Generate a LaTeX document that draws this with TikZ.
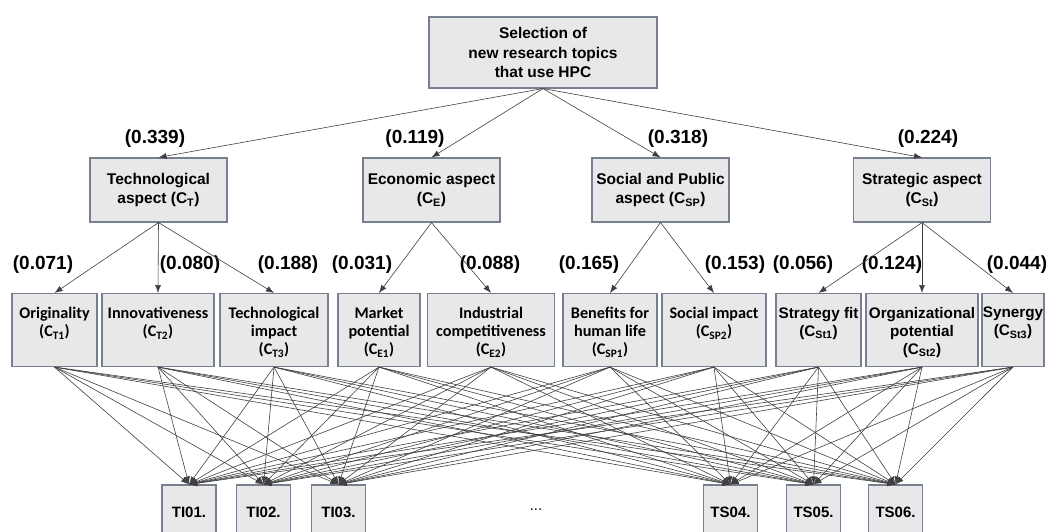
\documentclass[tikz,border=0pt]{standalone}
\usepackage{fontspec}
\setmainfont{Liberation Sans}
\newfontfamily\calibri{Carlito}
\usetikzlibrary{arrows.meta}
\definecolor{boxfill}{RGB}{232,232,232}
\definecolor{boxline}{RGB}{118,128,143}
\begin{document}
\begin{tikzpicture}[x=1pt,y=-1pt,
  critbox/.style={draw=boxline,fill=boxfill,line width=1.1pt,inner sep=0pt},
  goalbox/.style={critbox,minimum width=228,minimum height=71,align=center,font=\bfseries\fontsize{15.5}{19.5}\selectfont},
  aspbox/.style={critbox,minimum width=137,minimum height=64,align=center,font=\bfseries\fontsize{15.5}{19}\selectfont},
  subbox/.style={critbox,minimum height=73,anchor=north},
  subtext/.style={align=center,anchor=north,inner sep=0pt,font=\calibri\bfseries\fontsize{16.2}{18}\selectfont},
  subtextb/.style={subtext,font=\bfseries\fontsize{15.3}{18}\selectfont},
  altbox/.style={critbox,minimum width=54,minimum height=54,font=\bfseries\fontsize{15}{18}\selectfont},
  weight/.style={inner sep=0pt,font=\bfseries\fontsize{19}{22}\selectfont},
  link/.style={draw=black!75,line width=0.6pt,-{Latex[length=8pt,width=6pt]}}]
\useasboundingbox (0,0) rectangle (1060,532);
\clip (0,0) rectangle (1060,532);
% goal
\node[goalbox] (goal) at (543,52.5) {Selection of\\new research topics\\that use HPC};
% aspects
\node[aspbox] (CT) at (158.5,190) {Technological\\aspect (C\textsubscript{T})};
\node[aspbox] (CE) at (431.5,190) {Economic aspect\\(C\textsubscript{E})};
\node[aspbox] (CSP) at (660.5,190) {Social and Public\\aspect (C\textsubscript{SP})};
\node[aspbox] (CSt) at (922,190) {Strategic aspect\\(C\textsubscript{St})};
\node[weight] (wCT) at (155,139) {(0.339)};
\node[weight] (wCE) at (415,139) {(0.119)};
\node[weight] (wCSP) at (678,139) {(0.318)};
\node[weight] (wCSt) at (928,139) {(0.224)};
% sub-criteria
\node[subbox,minimum width=85] (CT1) at (54.5,293) {};
\node[subbox,minimum width=112] (CT2) at (158,293) {};
\node[subbox,minimum width=108] (CT3) at (274,293) {};
\node[subbox,minimum width=82] (CE1) at (379,293) {};
\node[subbox,minimum width=127] (CE2) at (491,293) {};
\node[subbox,minimum width=94] (CSP1) at (610,293) {};
\node[subbox,minimum width=104] (CSP2) at (714,293) {};
\node[subbox,minimum width=85] (CSt1) at (818.5,293) {};
\node[subbox,minimum width=112] (CSt2) at (922,293) {};
\node[subbox,minimum width=62] (CSt3) at (1013,293) {};
\node[subtext] (tCT1) at ([yshift=-14pt]CT1.north) {Originality\\(C\textsubscript{T1})};
\node[subtext] (tCT2) at ([yshift=-14pt]CT2.north) {Innovativeness\\(C\textsubscript{T2})};
\node[subtext] (tCT3) at ([yshift=-14pt]CT3.north) {Technological\\impact\\(C\textsubscript{T3})};
\node[subtext] (tCE1) at ([yshift=-14pt]CE1.north) {Market\\potential\\(C\textsubscript{E1})};
\node[subtext] (tCE2) at ([yshift=-14pt]CE2.north) {Industrial\\competitiveness\\(C\textsubscript{E2})};
\node[subtext] (tCSP1) at ([yshift=-14pt]CSP1.north) {Benefits for\\human life\\(C\textsubscript{SP1})};
\node[subtext] (tCSP2) at ([yshift=-14pt]CSP2.north) {Social impact\\(C\textsubscript{SP2})};
\node[subtextb] (tCSt1) at ([yshift=-14pt]CSt1.north) {Strategy fit\\(C\textsubscript{St1})};
\node[subtextb] (tCSt2) at ([yshift=-14pt]CSt2.north) {Organizational\\potential\\(C\textsubscript{St2})};
\node[subtextb] (tCSt3) at ([yshift=-14pt]CSt3.north) {Synergy\\(C\textsubscript{St3})};
\node[weight] (wCT1) at (43,265) {(0.071)};
\node[weight] (wCT2) at (190,265) {(0.080)};
\node[weight] (wCT3) at (288,265) {(0.188)};
\node[weight] (wCE1) at (362,265) {(0.031)};
\node[weight] (wCE2) at (490,265) {(0.088)};
\node[weight] (wCSP1) at (589,265) {(0.165)};
\node[weight] (wCSP2) at (735,265) {(0.153)};
\node[weight] (wCSt1) at (803,265) {(0.056)};
\node[weight] (wCSt2) at (892,265) {(0.124)};
\node[weight] (wCSt3) at (1017,265) {(0.044)};
% alternatives
\node[altbox] (TI01) at (189,512) {TI01.};
\node[altbox] (TI02) at (263.5,512) {TI02.};
\node[altbox] (TI03) at (338.5,512) {TI03.};
\node[font=\fontsize{15}{18}\selectfont] (dots) at (536,510) {...};
\node[altbox] (TS04) at (730.5,512) {TS04.};
\node[altbox] (TS05) at (813.5,512) {TS05.};
\node[altbox] (TS06) at (895.5,512) {TS06.};
% links
\draw[link] (goal.south) -- (CT.north);
\draw[link] (goal.south) -- (CE.north);
\draw[link] (goal.south) -- (CSP.north);
\draw[link] (goal.south) -- (CSt.north);
\draw[link] (CT.south) -- (CT1.north);
\draw[link] (CT.south) -- (CT2.north);
\draw[link] (CT.south) -- (CT3.north);
\draw[link] (CE.south) -- (CE1.north);
\draw[link] (CE.south) -- (CE2.north);
\draw[link] (CSP.south) -- (CSP1.north);
\draw[link] (CSP.south) -- (CSP2.north);
\draw[link] (CSt.south) -- (CSt1.north);
\draw[link] (CSt.south) -- (CSt2.north);
\draw[link] (CSt.south) -- (CSt3.north);
\foreach \s in {CT1,CT2,CT3,CE1,CE2,CSP1,CSP2,CSt1,CSt2,CSt3}
  \foreach \a in {TI01,TI02,TI03,TS04,TS05,TS06}
    \draw[link] (\s.south) -- (\a.north);
\end{tikzpicture}
\end{document}
